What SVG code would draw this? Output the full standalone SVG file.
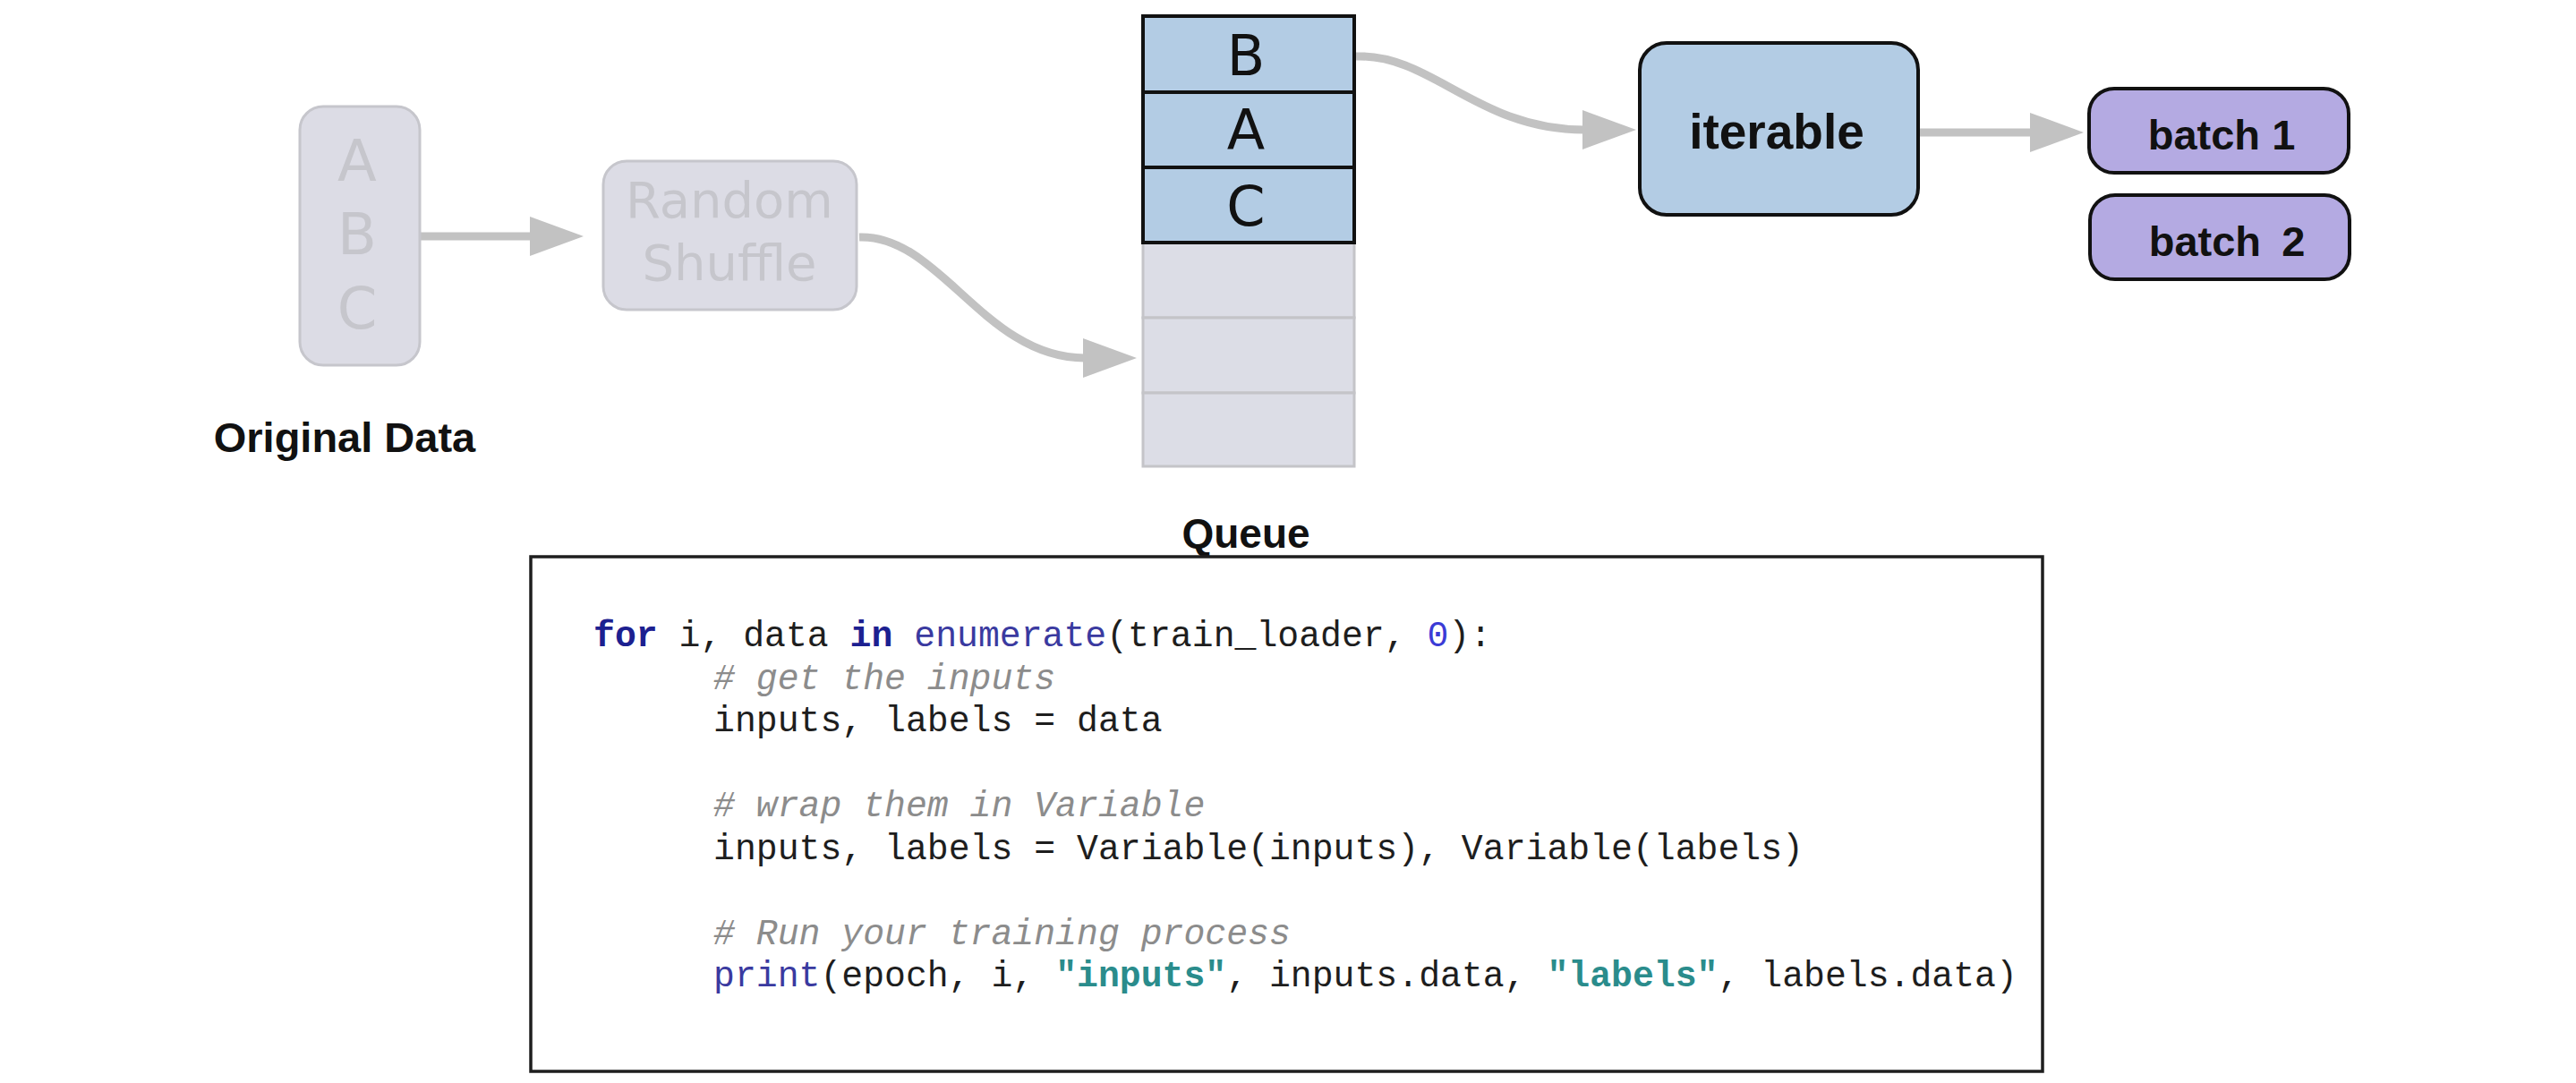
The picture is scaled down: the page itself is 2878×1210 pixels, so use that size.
<svg xmlns="http://www.w3.org/2000/svg" width="2878" height="1210" viewBox="0 0 2878 1210">
  <style>
    .faded { fill: #dcdce5; stroke: #c6c6cc; stroke-width: 3; }
    .fadedtxt { font-family: "DejaVu Sans", sans-serif; fill: #c6c6cc; text-anchor: middle; }
    .qtxt { font-family: "DejaVu Sans", sans-serif; fill: #111; font-size: 62px; text-anchor: middle; }
    .blue { fill: #b3cce4; stroke: #111; stroke-width: 4; }
    .purple { fill: #b4aae2; stroke: #111; stroke-width: 4; }
    .lbl { font-family: "Liberation Sans", Arial, sans-serif; font-weight: bold; fill: #111; text-anchor: middle; }
    .conn { fill: none; stroke: #c2c2c2; stroke-width: 9; }
    .code { font-family: "Liberation Mono", "Courier New", monospace; font-size: 39.8px; fill: #1e1e1e; }
    .kw { font-weight: bold; fill: #1c2090; }
    .fn { fill: #3a3aa0; }
    .num { fill: #3b3bd6; }
    .cm { font-style: italic; fill: #8c8c8c; }
    .str { font-weight: bold; fill: #2a8c8c; }
  </style>
  <defs>
    <marker id="ah" markerUnits="userSpaceOnUse" markerWidth="62" markerHeight="46" refX="2" refY="22" orient="auto">
      <path d="M0,0 L60,22 L0,44 z" fill="#c2c2c2"/>
    </marker>
  </defs>
  <rect width="2878" height="1210" fill="#ffffff"/>

  <g id="connectors">
    <path class="conn" d="M469,264 L594,264" marker-end="url(#ah)"/>
    <path class="conn" d="M960,265 C1050,262 1100,400 1212,400" marker-end="url(#ah)"/>
    <path class="conn" d="M1515,63 C1600,60 1650,145 1770,145" marker-end="url(#ah)"/>
    <path class="conn" d="M2143,148 L2270,148" marker-end="url(#ah)"/>
  </g>

  <g id="original-data">
    <rect class="faded" x="335" y="119" width="134" height="289" rx="26"/>
    <text class="fadedtxt" x="399" y="202" font-size="64">A</text>
    <text class="fadedtxt" x="399" y="284" font-size="64">B</text>
    <text class="fadedtxt" x="399" y="367" font-size="64">C</text>
  </g>
  <g id="original-data-label">
    <text class="lbl" x="385" y="505" font-size="47">Original Data</text>
  </g>

  <g id="random-shuffle">
    <rect class="faded" x="674" y="180" width="283" height="166" rx="26"/>
    <text class="fadedtxt" x="815" y="243" font-size="56">Random</text>
    <text class="fadedtxt" x="815" y="313" font-size="56">Shuffle</text>
  </g>

  <g id="queue">
    <rect x="1277" y="271" width="236" height="84" fill="#dcdde6" stroke="#c4c4c8" stroke-width="3"/>
    <rect x="1277" y="355" width="236" height="84" fill="#dcdde6" stroke="#c4c4c8" stroke-width="3"/>
    <rect x="1277" y="439" width="236" height="82" fill="#dcdde6" stroke="#c4c4c8" stroke-width="3"/>
    <rect x="1277" y="18" width="236" height="85" fill="#b3cce4" stroke="#111" stroke-width="4"/>
    <rect x="1277" y="103" width="236" height="84" fill="#b3cce4" stroke="#111" stroke-width="4"/>
    <rect x="1277" y="187" width="236" height="84" fill="#b3cce4" stroke="#111" stroke-width="4"/>
    <text class="qtxt" x="1392" y="84">B</text>
    <text class="qtxt" x="1392" y="167">A</text>
    <text class="qtxt" x="1392" y="252">C</text>
  </g>
  <g id="queue-label">
    <text class="lbl" x="1392" y="612" font-size="46">Queue</text>
  </g>

  <g id="iterable">
    <rect class="blue" x="1832" y="48" width="311" height="192" rx="30"/>
    <text class="lbl" x="1985" y="166" font-size="55">iterable</text>
  </g>

  <g id="batch1">
    <rect class="purple" x="2334" y="99" width="290" height="94" rx="28"/>
    <text class="lbl" x="2482" y="167" font-size="47">batch 1</text>
  </g>
  <g id="batch2">
    <rect class="purple" x="2335" y="218" width="290" height="94" rx="28"/>
    <text class="lbl" x="2488" y="286" font-size="47" word-spacing="10">batch 2</text>
  </g>

  <g id="code-box">
    <rect x="593" y="622" width="1689" height="575" fill="#ffffff" stroke="#1e1e1e" stroke-width="3.5"/>
    <text class="code" x="663" y="722" xml:space="preserve"><tspan class="kw">for</tspan> i, data <tspan class="kw">in</tspan> <tspan class="fn">enumerate</tspan>(train_loader, <tspan class="num">0</tspan>):</text>
    <text class="code cm" x="797" y="769.5" xml:space="preserve"># get the inputs</text>
    <text class="code" x="797" y="817" xml:space="preserve">inputs, labels = data</text>
    <text class="code cm" x="797" y="912" xml:space="preserve"># wrap them in Variable</text>
    <text class="code" x="797" y="959.5" xml:space="preserve">inputs, labels = Variable(inputs), Variable(labels)</text>
    <text class="code cm" x="797" y="1054.5" xml:space="preserve"># Run your training process</text>
    <text class="code" x="797" y="1102" xml:space="preserve"><tspan class="fn">print</tspan>(epoch, i, <tspan class="str">"inputs"</tspan>, inputs.data, <tspan class="str">"labels"</tspan>, labels.data)</text>
  </g>
</svg>
